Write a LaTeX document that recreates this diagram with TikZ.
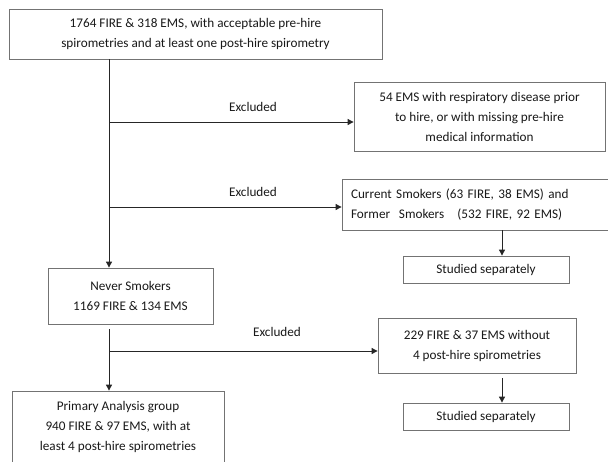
\documentclass[tikz,border=0pt]{standalone}
\usepackage{fontspec}
\setmainfont{Carlito}
\usetikzlibrary{arrows.meta}
\begin{document}
\begin{tikzpicture}[x=1pt,y=-1pt,
  box/.style={draw=black!55,line width=0.8pt,fill=white,inner sep=0pt,align=center,
    font=\fontsize{13.2}{20}\selectfont,text=black!90},
  lab/.style={font=\fontsize{13.2}{20}\selectfont,text=black!90},
  arr/.style={draw=black!85,line width=0.9pt,-{Triangle[length=6pt,width=6pt]}},
  ln/.style={draw=black!85,line width=0.9pt}]
\useasboundingbox (0,0) rectangle (608,461);
\node[box,minimum width=373pt,minimum height=50pt] (top) at (195.5,34)
  {1764 FIRE \& 318 EMS, with acceptable pre-hire\\spirometries and at least one post-hire spirometry};
\node[box,minimum width=251pt,minimum height=69pt] (resp) at (479.5,116.5)
  {54 EMS with respiratory disease prior\\to hire, or with missing pre-hire\\medical information};
\node[box,minimum width=272pt,minimum height=51pt,align=left,text width=254pt] (smok) at (478,204.5)
  {Current Smokers (63 FIRE, 38 EMS) and\\Former\ \ Smokers\ \ \ (532 FIRE, 92 EMS)};
\node[box,minimum width=166pt,minimum height=27pt] (stud1) at (486,269.5) {Studied separately};
\node[box,minimum width=165pt,minimum height=56pt] (never) at (130.5,296)
  {Never Smokers\\1169 FIRE \& 134 EMS};
\node[box,minimum width=198pt,minimum height=55pt] (miss) at (477,345.5)
  {229 FIRE \& 37 EMS without\\4 post-hire spirometries};
\node[box,minimum width=166pt,minimum height=27pt] (stud2) at (486,416.5) {Studied separately};
\node[box,minimum width=212pt,minimum height=72pt] (prim) at (118,427)
  {Primary Analysis group\\940 FIRE \& 97 EMS, with at\\least 4 post-hire spirometries};
\coordinate (tr) at (109,0);
\coordinate (sd) at (502,0);
\coordinate (b1) at (109,122);
\coordinate (b2) at (109,207);
\coordinate (b3) at (109,351);
\draw[arr] (top.south -| tr) -- (never.north -| tr);
\draw[arr] (b1) -- (b1 -| resp.west);
\draw[arr] (b2) -- (b2 -| smok.west);
\draw[arr,shorten <=5pt] (never.south -| tr) -- (prim.north -| tr);
\draw[arr] (b3) -- (b3 -| miss.west);
\draw[arr] (smok.south -| sd) -- (stud1.north -| sd);
\draw[arr,shorten <=5pt] (miss.south -| sd) -- (stud2.north -| sd);
\node[lab] (ex1) at (253,107) {Excluded};
\node[lab] (ex2) at (253,192) {Excluded};
\node[lab] (ex3) at (277,332) {Excluded};
\end{tikzpicture}
\end{document}
